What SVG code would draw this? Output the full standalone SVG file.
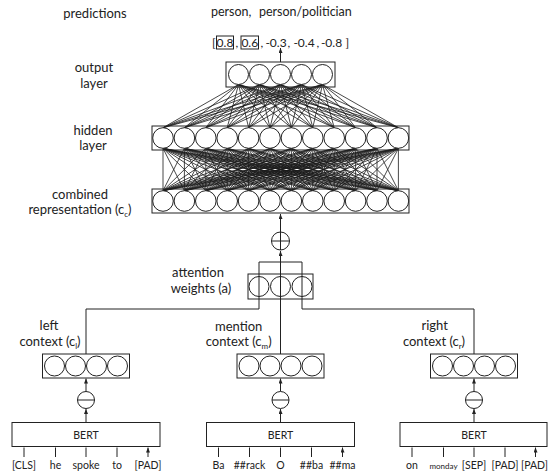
<svg xmlns="http://www.w3.org/2000/svg" width="548" height="475" viewBox="0 0 548 475">
<style>
text{font-family:Lato,"Open Sans","Liberation Sans",sans-serif;fill:#222}
.lbl{font-size:13px;text-anchor:middle}
.tok{font-size:10.5px;text-anchor:middle}
.num{font-size:12px}
.mid{text-anchor:middle}
.sub{font-size:8px}
.box{fill:none;stroke:#222;stroke-width:1}
.nd{fill:#fff;stroke:#222;stroke-width:1}
.ndo{fill:none;stroke:#222;stroke-width:1}
.ln{fill:none;stroke:#222;stroke-width:1}
.mesh{fill:none;stroke:#1a1a1a;stroke-width:0.8}
.arr{fill:none;stroke:#222;stroke-width:1;marker-end:url(#ah)}
</style>
<defs>
<marker id="ah" viewBox="0 0 5 4" refX="5" refY="2" markerWidth="5" markerHeight="4" orient="auto" markerUnits="userSpaceOnUse"><path d="M0 0L5 2L0 4z" fill="#222"/></marker>
</defs>

<g id="connectors">
<path class="mesh" d="M238.5 84.5L163 127.7M238.5 84.5L184.4 127.7M238.5 84.5L205.8 127.7M238.5 84.5L227.2 127.7M238.5 84.5L248.6 127.7M238.5 84.5L270 127.7M238.5 84.5L291.4 127.7M238.5 84.5L312.8 127.7M238.5 84.5L334.2 127.7M238.5 84.5L355.6 127.7M238.5 84.5L377 127.7M238.5 84.5L398.4 127.7
M259.5 84.5L163 127.7M259.5 84.5L184.4 127.7M259.5 84.5L205.8 127.7M259.5 84.5L227.2 127.7M259.5 84.5L248.6 127.7M259.5 84.5L270 127.7M259.5 84.5L291.4 127.7M259.5 84.5L312.8 127.7M259.5 84.5L334.2 127.7M259.5 84.5L355.6 127.7M259.5 84.5L377 127.7M259.5 84.5L398.4 127.7
M280.5 84.5L163 127.7M280.5 84.5L184.4 127.7M280.5 84.5L205.8 127.7M280.5 84.5L227.2 127.7M280.5 84.5L248.6 127.7M280.5 84.5L270 127.7M280.5 84.5L291.4 127.7M280.5 84.5L312.8 127.7M280.5 84.5L334.2 127.7M280.5 84.5L355.6 127.7M280.5 84.5L377 127.7M280.5 84.5L398.4 127.7
M301.5 84.5L163 127.7M301.5 84.5L184.4 127.7M301.5 84.5L205.8 127.7M301.5 84.5L227.2 127.7M301.5 84.5L248.6 127.7M301.5 84.5L270 127.7M301.5 84.5L291.4 127.7M301.5 84.5L312.8 127.7M301.5 84.5L334.2 127.7M301.5 84.5L355.6 127.7M301.5 84.5L377 127.7M301.5 84.5L398.4 127.7
M322.5 84.5L163 127.7M322.5 84.5L184.4 127.7M322.5 84.5L205.8 127.7M322.5 84.5L227.2 127.7M322.5 84.5L248.6 127.7M322.5 84.5L270 127.7M322.5 84.5L291.4 127.7M322.5 84.5L312.8 127.7M322.5 84.5L334.2 127.7M322.5 84.5L355.6 127.7M322.5 84.5L377 127.7M322.5 84.5L398.4 127.7"/>
<path class="mesh" d="M163 148.3L163 190.7M163 148.3L184.4 190.7M163 148.3L205.8 190.7M163 148.3L227.2 190.7M163 148.3L248.6 190.7M163 148.3L270 190.7M163 148.3L291.4 190.7M163 148.3L312.8 190.7M163 148.3L334.2 190.7M163 148.3L355.6 190.7M163 148.3L377 190.7M163 148.3L398.4 190.7
M184.4 148.3L163 190.7M184.4 148.3L184.4 190.7M184.4 148.3L205.8 190.7M184.4 148.3L227.2 190.7M184.4 148.3L248.6 190.7M184.4 148.3L270 190.7M184.4 148.3L291.4 190.7M184.4 148.3L312.8 190.7M184.4 148.3L334.2 190.7M184.4 148.3L355.6 190.7M184.4 148.3L377 190.7M184.4 148.3L398.4 190.7
M205.8 148.3L163 190.7M205.8 148.3L184.4 190.7M205.8 148.3L205.8 190.7M205.8 148.3L227.2 190.7M205.8 148.3L248.6 190.7M205.8 148.3L270 190.7M205.8 148.3L291.4 190.7M205.8 148.3L312.8 190.7M205.8 148.3L334.2 190.7M205.8 148.3L355.6 190.7M205.8 148.3L377 190.7M205.8 148.3L398.4 190.7
M227.2 148.3L163 190.7M227.2 148.3L184.4 190.7M227.2 148.3L205.8 190.7M227.2 148.3L227.2 190.7M227.2 148.3L248.6 190.7M227.2 148.3L270 190.7M227.2 148.3L291.4 190.7M227.2 148.3L312.8 190.7M227.2 148.3L334.2 190.7M227.2 148.3L355.6 190.7M227.2 148.3L377 190.7M227.2 148.3L398.4 190.7
M248.6 148.3L163 190.7M248.6 148.3L184.4 190.7M248.6 148.3L205.8 190.7M248.6 148.3L227.2 190.7M248.6 148.3L248.6 190.7M248.6 148.3L270 190.7M248.6 148.3L291.4 190.7M248.6 148.3L312.8 190.7M248.6 148.3L334.2 190.7M248.6 148.3L355.6 190.7M248.6 148.3L377 190.7M248.6 148.3L398.4 190.7
M270 148.3L163 190.7M270 148.3L184.4 190.7M270 148.3L205.8 190.7M270 148.3L227.2 190.7M270 148.3L248.6 190.7M270 148.3L270 190.7M270 148.3L291.4 190.7M270 148.3L312.8 190.7M270 148.3L334.2 190.7M270 148.3L355.6 190.7M270 148.3L377 190.7M270 148.3L398.4 190.7
M291.4 148.3L163 190.7M291.4 148.3L184.4 190.7M291.4 148.3L205.8 190.7M291.4 148.3L227.2 190.7M291.4 148.3L248.6 190.7M291.4 148.3L270 190.7M291.4 148.3L291.4 190.7M291.4 148.3L312.8 190.7M291.4 148.3L334.2 190.7M291.4 148.3L355.6 190.7M291.4 148.3L377 190.7M291.4 148.3L398.4 190.7
M312.8 148.3L163 190.7M312.8 148.3L184.4 190.7M312.8 148.3L205.8 190.7M312.8 148.3L227.2 190.7M312.8 148.3L248.6 190.7M312.8 148.3L270 190.7M312.8 148.3L291.4 190.7M312.8 148.3L312.8 190.7M312.8 148.3L334.2 190.7M312.8 148.3L355.6 190.7M312.8 148.3L377 190.7M312.8 148.3L398.4 190.7
M334.2 148.3L163 190.7M334.2 148.3L184.4 190.7M334.2 148.3L205.8 190.7M334.2 148.3L227.2 190.7M334.2 148.3L248.6 190.7M334.2 148.3L270 190.7M334.2 148.3L291.4 190.7M334.2 148.3L312.8 190.7M334.2 148.3L334.2 190.7M334.2 148.3L355.6 190.7M334.2 148.3L377 190.7M334.2 148.3L398.4 190.7
M355.6 148.3L163 190.7M355.6 148.3L184.4 190.7M355.6 148.3L205.8 190.7M355.6 148.3L227.2 190.7M355.6 148.3L248.6 190.7M355.6 148.3L270 190.7M355.6 148.3L291.4 190.7M355.6 148.3L312.8 190.7M355.6 148.3L334.2 190.7M355.6 148.3L355.6 190.7M355.6 148.3L377 190.7M355.6 148.3L398.4 190.7
M377 148.3L163 190.7M377 148.3L184.4 190.7M377 148.3L205.8 190.7M377 148.3L227.2 190.7M377 148.3L248.6 190.7M377 148.3L270 190.7M377 148.3L291.4 190.7M377 148.3L312.8 190.7M377 148.3L334.2 190.7M377 148.3L355.6 190.7M377 148.3L377 190.7M377 148.3L398.4 190.7
M398.4 148.3L163 190.7M398.4 148.3L184.4 190.7M398.4 148.3L205.8 190.7M398.4 148.3L227.2 190.7M398.4 148.3L248.6 190.7M398.4 148.3L270 190.7M398.4 148.3L291.4 190.7M398.4 148.3L312.8 190.7M398.4 148.3L334.2 190.7M398.4 148.3L355.6 190.7M398.4 148.3L377 190.7M398.4 148.3L398.4 190.7"/>
<path class="arr" d="M280.5 62V48"/>
<path class="arr" d="M280.5 232V214"/>
<path class="arr" d="M280.5 262V251"/>
<path class="ln" d="M86 354V309H259V262H302V309H474V354"/>
<path class="ln" d="M280.5 262V354"/>
<path class="arr" d="M86 391.5V378.5"/>
<path class="arr" d="M280.5 391.5V378.5"/>
<path class="arr" d="M474 391.5V378.5"/>
<path class="arr" d="M86 422.5V409"/>
<path class="arr" d="M280.5 422.5V409"/>
<path class="arr" d="M474 422.5V409"/>
<path class="arr" d="M24 457V447.5M55.5 457V447.5M86 457V447.5M117 457V447.5M148 457V447.5"/>
<path class="arr" d="M218.5 457V447.5M249.5 457V447.5M280.5 457V447.5M311.5 457V447.5M342.5 457V447.5"/>
<path class="arr" d="M412 457V447.5M443.5 457V447.5M474 457V447.5M505 457V447.5M535.5 457V447.5"/>
</g>

<g id="predictions">
<text class="lbl" x="95" y="18">predictions</text>
<text class="num" x="211" y="16" style="font-size:12.5px">person,</text>
<text class="num" x="259" y="16" style="font-size:12.5px">person/politician</text>
<text class="num" x="212" y="47">[</text>
<rect class="box" x="216.5" y="36" width="17" height="13"/>
<text class="num mid" x="225" y="47">0.8</text>
<text class="num" x="235.5" y="47">,</text>
<rect class="box" x="241" y="36" width="17.5" height="13"/>
<text class="num mid" x="249.8" y="47">0.6</text>
<text class="num" x="260.5" y="47">,</text>
<text class="num mid" x="276" y="47">-0.3</text>
<text class="num" x="287.5" y="47">,</text>
<text class="num mid" x="304" y="47">-0.4</text>
<text class="num" x="316.5" y="47">,</text>
<text class="num mid" x="331.5" y="47">-0.8</text>
<text class="num" x="345.5" y="47">]</text>
</g>

<g id="output-layer">
<text class="lbl" x="94" y="72">output</text>
<text class="lbl" x="94" y="88">layer</text>
<rect class="box" x="226" y="62" width="109" height="25"/>
<circle class="nd" cx="238.5" cy="74.5" r="10"/>
<circle class="nd" cx="259.5" cy="74.5" r="10"/>
<circle class="nd" cx="280.5" cy="74.5" r="10"/>
<circle class="nd" cx="301.5" cy="74.5" r="10"/>
<circle class="nd" cx="322.5" cy="74.5" r="10"/>
</g>

<g id="hidden-layer">
<text class="lbl" x="93" y="135">hidden</text>
<text class="lbl" x="93" y="150">layer</text>
<rect class="box" x="152" y="126" width="257" height="24"/>
<circle class="nd" cx="163" cy="138" r="10.3"/>
<circle class="nd" cx="184.4" cy="138" r="10.3"/>
<circle class="nd" cx="205.8" cy="138" r="10.3"/>
<circle class="nd" cx="227.2" cy="138" r="10.3"/>
<circle class="nd" cx="248.6" cy="138" r="10.3"/>
<circle class="nd" cx="270" cy="138" r="10.3"/>
<circle class="nd" cx="291.4" cy="138" r="10.3"/>
<circle class="nd" cx="312.8" cy="138" r="10.3"/>
<circle class="nd" cx="334.2" cy="138" r="10.3"/>
<circle class="nd" cx="355.6" cy="138" r="10.3"/>
<circle class="nd" cx="377" cy="138" r="10.3"/>
<circle class="nd" cx="398.4" cy="138" r="10.3"/>
</g>

<g id="combined-representation">
<text class="lbl" x="80" y="199">combined</text>
<text class="lbl" x="80" y="214">representation (c<tspan class="sub" dy="3">c</tspan><tspan dy="-3">)</tspan></text>
<rect class="box" x="152" y="189" width="257" height="24"/>
<circle class="nd" cx="163" cy="201" r="10.3"/>
<circle class="nd" cx="184.4" cy="201" r="10.3"/>
<circle class="nd" cx="205.8" cy="201" r="10.3"/>
<circle class="nd" cx="227.2" cy="201" r="10.3"/>
<circle class="nd" cx="248.6" cy="201" r="10.3"/>
<circle class="nd" cx="270" cy="201" r="10.3"/>
<circle class="nd" cx="291.4" cy="201" r="10.3"/>
<circle class="nd" cx="312.8" cy="201" r="10.3"/>
<circle class="nd" cx="334.2" cy="201" r="10.3"/>
<circle class="nd" cx="355.6" cy="201" r="10.3"/>
<circle class="nd" cx="377" cy="201" r="10.3"/>
<circle class="nd" cx="398.4" cy="201" r="10.3"/>
</g>

<g id="plus">
<circle class="nd" cx="280.5" cy="241" r="9"/>
<path class="ln" d="M271.5 241H289.5M280.5 232V250"/>
</g>

<g id="attention-weights">
<text class="lbl" x="198" y="277">attention</text>
<text class="lbl" x="201" y="293">weights (a)</text>
<rect class="box" x="248" y="274" width="65" height="25"/>
<circle class="ndo" cx="259" cy="286.5" r="10"/>
<circle class="ndo" cx="280.5" cy="286.5" r="10"/>
<circle class="ndo" cx="302" cy="286.5" r="10"/>
</g>

<g id="left-context">
<text class="lbl" x="49" y="330">left</text>
<text class="lbl" x="50" y="346">context (c<tspan class="sub" dy="3">l</tspan><tspan dy="-3">)</tspan></text>
<rect class="box" x="42.5" y="354" width="87" height="24"/>
<circle class="nd" cx="54.5" cy="366" r="10"/>
<circle class="nd" cx="75.5" cy="366" r="10"/>
<circle class="nd" cx="96.5" cy="366" r="10"/>
<circle class="nd" cx="117.5" cy="366" r="10"/>
</g>

<g id="mention-context">
<text class="lbl" x="238.7" y="331">mention</text>
<text class="lbl" x="238.7" y="346">context (c<tspan class="sub" dy="3">m</tspan><tspan dy="-3">)</tspan></text>
<rect class="box" x="237" y="354" width="87" height="24"/>
<circle class="nd" cx="249" cy="366" r="10"/>
<circle class="nd" cx="270" cy="366" r="10"/>
<circle class="nd" cx="291" cy="366" r="10"/>
<circle class="nd" cx="312" cy="366" r="10"/>
</g>

<g id="right-context">
<text class="lbl" x="434.7" y="330">right</text>
<text class="lbl" x="434" y="346">context (c<tspan class="sub" dy="3">r</tspan><tspan dy="-3">)</tspan></text>
<rect class="box" x="430.5" y="354" width="87" height="24"/>
<circle class="nd" cx="442.5" cy="366" r="10"/>
<circle class="nd" cx="463.5" cy="366" r="10"/>
<circle class="nd" cx="484.5" cy="366" r="10"/>
<circle class="nd" cx="505.5" cy="366" r="10"/>
</g>

<g id="minus-left">
<circle class="nd" cx="86" cy="400" r="8.5"/>
<path class="ln" d="M77.5 400H94.5"/>
</g>
<g id="minus-mention">
<circle class="nd" cx="280.5" cy="400" r="8.5"/>
<path class="ln" d="M272 400H289"/>
</g>
<g id="minus-right">
<circle class="nd" cx="474" cy="400" r="8.5"/>
<path class="ln" d="M465.5 400H482.5"/>
</g>

<g id="bert-left">
<rect class="box" x="12" y="422.5" width="148" height="24"/>
<text class="tok" x="86" y="439">BERT</text>
</g>
<g id="bert-mention">
<rect class="box" x="206.5" y="422.5" width="148" height="24"/>
<text class="tok" x="280.5" y="439">BERT</text>
</g>
<g id="bert-right">
<rect class="box" x="400" y="422.5" width="147" height="24"/>
<text class="tok" x="474" y="439">BERT</text>
</g>

<g id="tokens-left">
<text class="tok" x="24" y="469">[CLS]</text>
<text class="tok" x="55.5" y="469">he</text>
<text class="tok" x="86" y="469">spoke</text>
<text class="tok" x="117" y="469">to</text>
<text class="tok" x="148" y="469">[PAD]</text>
</g>
<g id="tokens-mention">
<text class="tok" x="218.5" y="469">Ba</text>
<text class="tok" x="249.5" y="469">##rack</text>
<text class="tok" x="280.5" y="469">O</text>
<text class="tok" x="311.5" y="469">##ba</text>
<text class="tok" x="342.5" y="469">##ma</text>
</g>
<g id="tokens-right">
<text class="tok" x="412" y="469">on</text>
<text class="tok" x="443.5" y="469" style="font-size:8px">monday</text>
<text class="tok" x="474" y="469">[SEP]</text>
<text class="tok" x="505" y="469">[PAD]</text>
<text class="tok" x="534.5" y="469">[PAD]</text>
</g>
</svg>
